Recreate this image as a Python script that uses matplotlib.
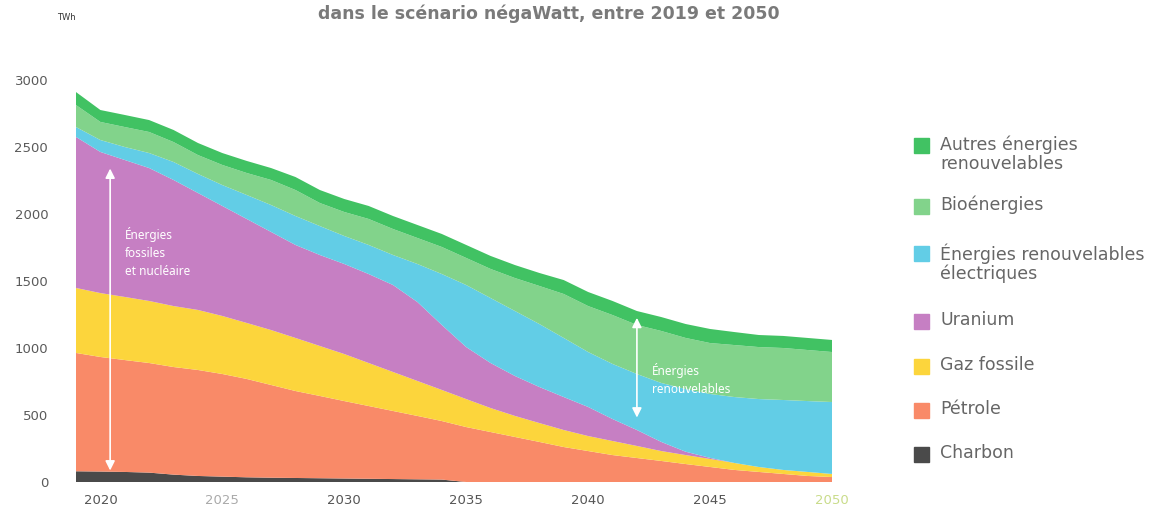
import matplotlib
matplotlib.use("Agg")
import matplotlib.pyplot as plt
from matplotlib.patches import Rectangle

# Consommation d'énergie primaire par source (TWh), scénario négaWatt
years = list(range(2019, 2051))

charbon = [80, 78, 75, 70, 55, 45, 40, 35, 32, 30, 28, 26, 24, 22, 20, 18,
           0, 0, 0, 0, 0, 0, 0, 0, 0, 0, 0, 0, 0, 0, 0, 0]
petrole = [883, 855, 835, 818, 803, 791, 766, 734, 692, 649, 614, 578, 543, 508, 473, 437,
           410, 373, 336, 299, 261, 231, 201, 179, 157, 134, 112, 90, 75, 60, 45, 37]
gaz = [485, 477, 471, 463, 455, 448, 433, 418, 410, 396, 373, 351, 321, 291, 261, 232,
       209, 179, 157, 141, 127, 112, 105, 90, 74, 67, 60, 52, 37, 30, 30, 23]
uranium = [1127, 1053, 1022, 992, 941, 873, 821, 776, 732, 694, 679, 672, 664, 649, 589, 485,
           388, 336, 298, 269, 246, 217, 164, 119, 68, 25, 8, 0, 0, 0, 0, 0]
enr_elec = [74, 89, 97, 112, 134, 142, 156, 179, 201, 216, 216, 209, 217, 224, 284, 380,
            463, 485, 485, 470, 441, 410, 411, 418, 440, 468, 477, 492, 507, 522, 529, 537]
bioenergies = [164, 135, 149, 157, 149, 141, 150, 164, 187, 194, 172, 179, 194, 194, 194, 202,
               202, 217, 246, 284, 328, 343, 365, 366, 388, 381, 380, 388, 388, 388, 381, 373]
autres = [97, 89, 90, 89, 90, 90, 89, 90, 89, 97, 97, 97, 97, 97, 97, 97,
          97, 97, 97, 97, 104, 105, 105, 104, 104, 104, 105, 97, 90, 90, 90, 90]

series = [charbon, petrole, gaz, uranium, enr_elec, bioenergies, autres]
colors = ["#4a4a4a", "#f98a68", "#fcd53c", "#c67fc3", "#62cde6", "#82d38b", "#41c263"]

legend_labels = ["Autres énergies\nrenouvelables", "Bioénergies",
                 "Énergies renouvelables\nélectriques", "Uranium",
                 "Gaz fossile", "Pétrole", "Charbon"]
legend_colors = ["#41c263", "#82d38b", "#62cde6", "#c67fc3", "#fcd53c", "#f98a68", "#4a4a4a"]

y_ticks = [0, 500, 1000, 1500, 2000, 2500, 3000]
x_ticks = [2020, 2025, 2030, 2035, 2040, 2045, 2050]
x_tick_colors = ["#555555", "#aaaaaa", "#555555", "#555555", "#555555", "#555555", "#c9dc8a"]

FONT = "DejaVu Sans"
SMALL_FONT = "Noto Sans"

W, H = 1161, 514
fig = plt.figure(figsize=(W / 100, H / 100), dpi=100)
fig.patch.set_facecolor("white")

ax = fig.add_axes([76 / W, 1 - 482 / H, (832 - 76) / W, (482 - 80) / H])
ax.stackplot(years, *series, colors=colors, linewidth=0)
ax.set_xlim(2019, 2050)
ax.set_ylim(0, 3000)
for s in ax.spines.values():
    s.set_visible(False)
ax.set_facecolor("none")

ax.set_yticks(y_ticks)
ax.set_yticklabels([str(v) for v in y_ticks], fontsize=9.5, color="#5a5a5a", family=FONT)
ax.set_xticks(x_ticks)
ax.set_xticklabels([str(v) for v in x_ticks], fontsize=9.5, color="#5a5a5a", family=FONT)
for lbl, c in zip(ax.get_xticklabels(), x_tick_colors):
    lbl.set_color(c)
ax.tick_params(axis="both", length=0)
ax.tick_params(axis="y", pad=20)
ax.tick_params(axis="x", pad=9)

# Flèches blanches et annotations
arrow_style = dict(arrowstyle="<|-|>", color="white", lw=1.2, mutation_scale=14)
ax.annotate("", xy=(2020.4, 2360), xytext=(2020.4, 65), arrowprops=arrow_style)
ax.text(2021.0, 1716, "Énergies\nfossiles\net nucléaire", color="white", fontsize=8.5,
        family=SMALL_FONT, va="center", ha="left", linespacing=1.5)
ax.annotate("", xy=(2042.0, 1246), xytext=(2042.0, 460), arrowprops=arrow_style)
ax.text(2042.6, 765, "Énergies\nrenouvelables", color="white", fontsize=8.5,
        family=SMALL_FONT, va="center", ha="left", linespacing=1.5)

fig.text(549 / W, 1 - 14 / H, "dans le scénario négaWatt, entre 2019 et 2050",
         ha="center", va="center", fontsize=12.5, fontweight="bold", color="#7a7a7a",
         family=FONT)
fig.text(57 / W, 1 - 17 / H, "TWh", ha="left", va="center", fontsize=6,
         color="#333333", family=FONT)

# Légende
legend_y = [145, 206, 253, 321, 366, 410, 454]
sq = 15
for lab, c, yy in zip(legend_labels, legend_colors, legend_y):
    fig.patches.append(Rectangle((914 / W, 1 - (yy + sq / 2) / H), sq / W, sq / H,
                                 transform=fig.transFigure, color=c, zorder=3))
    fig.text(940 / W, 1 - (yy - 10) / H, lab, ha="left", va="top", fontsize=12.5,
             color="#666666", family=FONT, linespacing=1.1)

fig.savefig("out.png", dpi=100, facecolor="white")
